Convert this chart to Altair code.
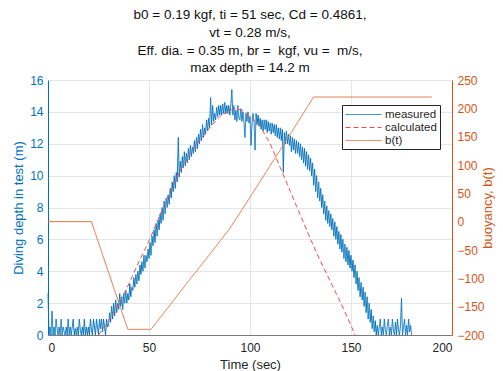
import altair as alt
import numpy as np
import pandas as pd

FONT = "Liberation Sans"

title_lines = [
    "b0 = 0.19 kgf, ti = 51 sec, Cd = 0.4861,",
    "vt = 0.28 m/s,",
    "Eff. dia. = 0.35 m, br = \u00a0kgf, vu = \u00a0m/s,",
    "max depth = 14.2 m",
]

series_names = ["measured", "calculated", "b(t)"]
series_colors = ["#0072BD", "#F44A4A", "#E0733F"]

# measured depth (m), sampled every 0.5 s from t = 0 to t = 180
meas_000 = [2.6, 0.0, 0.5, 0.0, 1.5, 0.0, 0.5, 0.0, 1.0, 0.4, 0.0, 0.5, 0.0, 1.0, 0.0, 0.5, 0.2, 0.0, 0.5, 0.0]
meas_010 = [1.0, 0.0, 0.5, 0.0, 0.5, 1.0, 0.0, 0.4, 0.0, 0.5, 0.0, 1.0, 0.3, 0.0, 0.5, 0.0, 1.0, 0.0, 0.5, 0.0]
meas_020 = [0.5, 0.0, 1.0, 0.3, 0.0, 1.0, 0.5, 0.0, 1.0, 0.5, 0.0, 1.0, 0.4, 1.0, 0.2, 1.0, 0.5, 0.0, 1.0, 0.5]
meas_030 = [0.6, 1.4, 0.8, 1.8, 1.0, 2.0, 1.2, 2.2, 1.4, 2.0, 1.6, 2.6, 1.8, 2.4, 1.6, 2.6, 2.0, 2.8, 2.0, 2.6]
meas_040 = [2.2, 3.2, 2.4, 3.0, 2.8, 3.6, 3.0, 3.8, 3.2, 4.0, 3.4, 4.4, 3.8, 4.6, 4.0, 5.0, 4.2, 5.0, 4.6, 5.4]
meas_050 = [4.8, 5.8, 5.0, 6.2, 5.6, 6.6, 5.8, 7.0, 6.2, 7.2, 6.6, 7.6, 7.0, 8.0, 7.2, 8.4, 7.6, 8.6, 8.0, 8.8]
meas_060 = [8.2, 9.2, 8.6, 9.6, 9.0, 10.0, 9.2, 10.2, 9.6, 12.4, 9.9, 10.9, 10.2, 11.2, 10.5, 11.5, 10.6, 11.4, 10.8, 11.7]
meas_070 = [11.0, 11.9, 11.2, 11.8, 11.4, 12.2, 11.5, 12.4, 11.7, 12.6, 12.0, 12.9, 12.2, 13.2, 12.4, 13.0, 12.6, 13.5, 12.8, 13.6]
meas_080 = [13.0, 14.9, 13.2, 14.4, 13.4, 13.9, 13.5, 14.3, 13.7, 14.4, 13.8, 14.4, 13.8, 14.5, 13.9, 14.6, 13.9, 14.4, 13.9, 14.4]
meas_090 = [13.8, 14.4, 15.4, 13.8, 14.4, 13.5, 14.1, 13.4, 14.4, 13.6, 13.5, 14.2, 13.4, 14.0, 13.4, 12.4, 13.9, 13.4, 14.0, 13.3]
meas_100 = [13.7, 11.9, 13.3, 13.9, 13.4, 11.6, 13.9, 13.2, 13.8, 13.1, 13.6, 12.9, 13.5, 12.8, 13.5, 12.9, 13.5, 12.7, 13.4, 12.8]
meas_110 = [13.3, 12.6, 13.3, 12.7, 13.2, 12.5, 13.2, 12.4, 13.0, 12.3, 13.0, 12.2, 12.9, 10.2, 12.7, 12.0, 12.8, 12.0, 12.6, 11.9]
meas_120 = [12.5, 11.5, 12.4, 11.6, 12.3, 11.4, 12.2, 11.4, 12.1, 11.2, 12.0, 11.0, 11.8, 10.8, 11.7, 10.6, 11.5, 10.4, 11.3, 10.3]
meas_130 = [11.1, 10.0, 10.8, 9.4, 10.4, 9.0, 10.0, 8.6, 9.6, 8.4, 9.2, 8.0, 8.8, 7.6, 8.4, 7.2, 8.1, 7.0, 7.8, 6.8]
meas_140 = [7.6, 6.6, 7.3, 6.2, 7.1, 6.0, 6.8, 5.7, 6.5, 5.4, 6.3, 5.2, 6.0, 4.8, 5.7, 4.6, 5.5, 4.4, 5.3, 4.2]
meas_150 = [5.0, 4.0, 4.7, 3.6, 4.4, 3.2, 4.0, 2.8, 3.6, 2.4, 3.3, 2.2, 3.0, 1.8, 2.7, 1.4, 2.4, 1.0, 2.0, 0.8]
meas_160 = [1.6, 0.4, 1.2, 0.2, 0.9, 0.0, 0.6, 0.0, 0.5, 1.0, 0.0, 0.5, 0.0, 1.0, 0.3, 0.0, 0.6, 1.0, 0.0, 0.5]
meas_170 = [0.0, 1.0, 0.3, 0.0, 0.8, 0.0, 1.0, 0.3, 0.0, 0.6, 2.3, 0.0, 0.5, 1.0, 0.0, 0.6, 0.0, 1.0, 0.2, 0.6]
meas_180 = [0.0]

measured_depth = (meas_000 + meas_010 + meas_020 + meas_030 + meas_040 + meas_050 + meas_060
                  + meas_070 + meas_080 + meas_090 + meas_100 + meas_110 + meas_120 + meas_130
                  + meas_140 + meas_150 + meas_160 + meas_170 + meas_180)
measured_time = list(np.arange(len(measured_depth)) * 0.5)

# calculated depth (m)
calc_time = [25, 30, 35, 40, 45, 50, 55, 60, 65, 70, 75, 80, 85, 90, 93, 96, 100, 105,
             110, 115, 120, 125, 130, 135, 140, 145, 150, 152]
calc_depth = [0.0, 0.9, 1.9, 3.2, 4.6, 5.9, 7.4, 8.9, 10.2, 11.3, 12.2, 13.0, 13.7, 14.1, 14.2,
              14.1, 13.7, 13.1, 12.0, 10.5, 9.0, 7.5, 6.0, 4.6, 3.3, 2.0, 0.6, 0.0]

# buoyancy b(t)
b_time = [0, 21.5, 39.5, 51, 60, 70, 80, 90, 100, 110, 120, 131.5, 190]
b_value = [0, 0, -190, -190, -149, -103, -58, -12, 43, 99, 155, 220, 220]

left_df = pd.concat([
    pd.DataFrame({"t": measured_time, "v": measured_depth, "series": "measured"}),
    pd.DataFrame({"t": calc_time, "v": calc_depth, "series": "calculated"}),
])
right_df = pd.DataFrame({"t": b_time, "v": b_value, "series": "b(t)"})

color_scale = alt.Scale(domain=series_names, range=series_colors)
dash_scale = alt.Scale(domain=series_names, range=[[1, 0], [5, 3], [1, 0]])

legend = alt.Legend(
    title=None, orient="none", legendX=294, legendY=25,
    fillColor="white", strokeColor="#262626", padding=3,
    symbolType="M-1,0H5", symbolSize=144, symbolStrokeWidth=1,
    labelFont=FONT, labelFontSize=11.5, labelColor="#262626", rowPadding=1,
    labelOffset=27,
)

x_enc = alt.X(
    "t:Q", scale=alt.Scale(domain=[0, 200], nice=False),
    axis=alt.Axis(title="Time (sec)", values=[0, 50, 100, 150, 200], grid=True,
                  gridColor="#e3e6ea", domainColor="#7a7a7a", labelColor="#262626",
                  titleColor="#262626", labelFontSize=12, titleFontSize=13,
                  titleFontWeight="normal", ticks=False, labelPadding=7, titlePadding=5,
                  labelFont=FONT, titleFont=FONT),
)

left = alt.Chart(left_df).mark_line(strokeWidth=1).encode(
    x=x_enc,
    y=alt.Y("v:Q", scale=alt.Scale(domain=[0, 16], nice=False),
            axis=alt.Axis(title="Diving depth in test (m)", orient="left",
                          values=list(range(0, 17, 2)), grid=True, gridColor="#e3e6ea",
                          domainColor="#0072BD", labelColor="#0072BD", titleColor="#0072BD",
                          labelFontSize=12, titleFontSize=13, titleFontWeight="normal",
                          ticks=False, labelPadding=5, titlePadding=4,
                          labelFont=FONT, titleFont=FONT)),
    color=alt.Color("series:N", scale=color_scale, legend=legend),
    strokeDash=alt.StrokeDash("series:N", scale=dash_scale, legend=legend),
)

right = alt.Chart(right_df).mark_line(strokeWidth=1).encode(
    x=x_enc,
    y=alt.Y("v:Q", scale=alt.Scale(domain=[-200, 250], nice=False),
            axis=alt.Axis(title="buoyancy, b(t)", orient="right",
                          values=list(range(-200, 251, 50)), grid=False,
                          domainColor="#D95319", labelColor="#D95319", titleColor="#D95319",
                          labelFontSize=12, titleFontSize=13, titleFontWeight="normal",
                          ticks=False, labelPadding=5, titlePadding=10, titleAngle=270,
                          labelFont=FONT, titleFont=FONT)),
    color=alt.Color("series:N", scale=color_scale, legend=legend),
    strokeDash=alt.StrokeDash("series:N", scale=dash_scale, legend=legend),
)

chart = alt.layer(left, right).resolve_scale(y="independent").properties(
    width=404, height=255,
    title=alt.TitleParams(text=title_lines, anchor="middle", font=FONT, fontSize=13.5,
                          fontWeight="normal", color="#111111", lineHeight=17.8,
                          offset=6, dy=7),
    autosize=alt.AutoSizeParams(type="none"),
    padding={"left": 40, "top": 72, "right": 43, "bottom": 36},
).configure_view(stroke=None)

chart.save("out.html", embed_options={"renderer": "svg", "actions": False})
